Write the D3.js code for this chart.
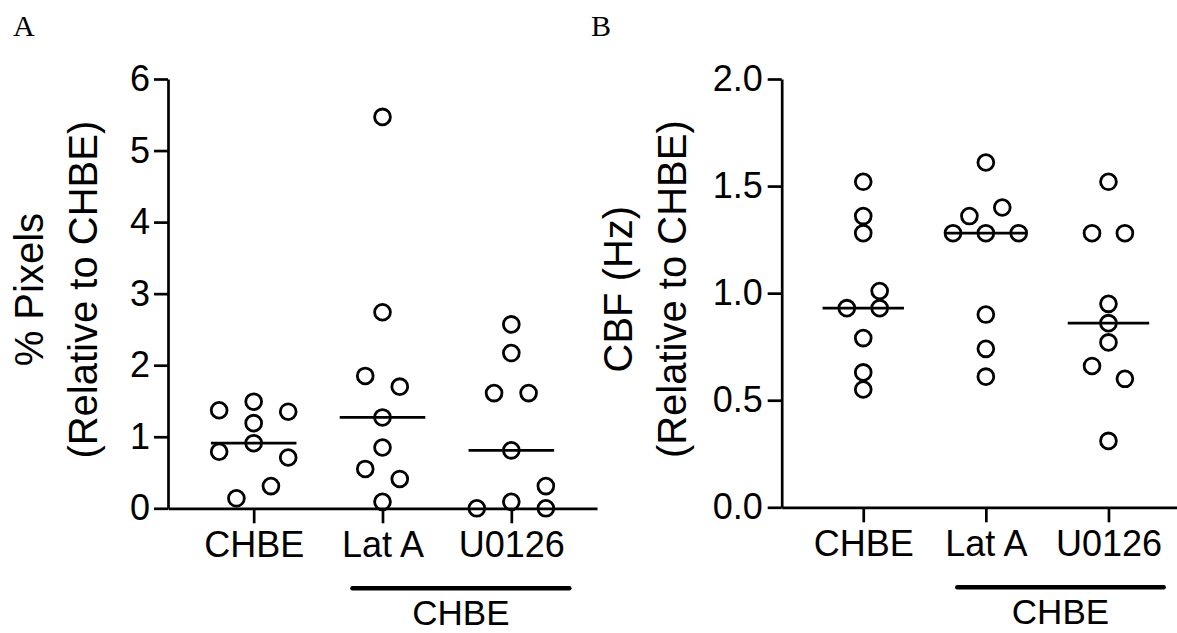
<!DOCTYPE html>
<html>
<head>
<meta charset="utf-8">
<title>Pixels and CBF</title>
<script src="https://d3js.org/d3.v7.min.js"></script>
<style>
    body { margin: 0; background: #fff; }
    text { font-family: "Liberation Sans", Arial, sans-serif; fill: #000; }
    .panel-letter { font-family: "Liberation Serif", "Times New Roman", serif; font-size: 30px; }
    .axis path, .axis line { stroke: #000; stroke-width: 2.7px; }
    .axis text { font-size: 36px; }
    .axis-title { font-size: 40px; }
    .group-label { font-size: 35px; }
    .dot { fill: none; stroke: #000; stroke-width: 2.8px; }
    .median { stroke: #000; stroke-width: 2.8px; }
    .group-bar { stroke: #000; stroke-width: 4.5px; stroke-linecap: round; }
</style>
</head>
<body>
<svg id="chart" width="1177" height="633"></svg>
<script>
// categories
var groups = ["CHBE", "Lat A", "U0126"];

// panel A: % pixels, relative to CHBE
var pixelsCHBE  = [1.49, 1.37, 1.35, 1.19, 0.91, 0.79, 0.71, 0.31, 0.14];
var pixelsLatA  = [5.47, 2.74, 1.85, 1.70, 1.27, 0.85, 0.55, 0.41, 0.09];
var pixelsU0126 = [2.57, 2.17, 1.61, 1.61, 0.81, 0.31, 0.00, 0.09, 0.00];
// side-by-side spread of overlapping points (column slot per point)
var pixelsSpreadCHBE  = [0, -2, 2, 0, 0, -2, 2, 1, -1];
var pixelsSpreadLatA  = [0, 0, -1, 1, 0, 0, -1, 1, 0];
var pixelsSpreadU0126 = [0, 0, -1, 1, 0, 2, -2, 0, 2];
var pixelTicks = [0, 1, 2, 3, 4, 5, 6];

// panel B: CBF (Hz), relative to CHBE
var cbfCHBE  = [1.52, 1.36, 1.28, 1.01, 0.93, 0.93, 0.79, 0.63, 0.55];
var cbfLatA  = [1.61, 1.40, 1.36, 1.28, 1.28, 1.28, 0.90, 0.74, 0.61];
var cbfU0126 = [1.52, 1.28, 1.28, 0.95, 0.86, 0.77, 0.66, 0.60, 0.31];
var cbfSpreadCHBE  = [0, 0, 0, 1, -1, 1, 0, 0, 0];
var cbfSpreadLatA  = [0, 1, -1, -2, 0, 2, 0, 0, 0];
var cbfSpreadU0126 = [0, -1, 1, 0, 0, 0, -1, 1, 0];
var cbfTicks = [0, 0.5, 1.0, 1.5, 2.0];

var svg = d3.select("#chart");

function drawPanel(opt) {
    var g = svg.append("g");

    var x = d3.scalePoint()
        .domain(groups)
        .range([opt.left, opt.right])
        .padding(0.665);
    var step = x.step();

    var y = d3.scaleLinear()
        .domain(opt.domain)
        .range([opt.bottom, opt.top]);

    // x axis
    g.append("g")
        .attr("class", "axis")
        .attr("transform", "translate(0," + opt.bottom + ")")
        .call(d3.axisBottom(x).tickSize(15).tickPadding(8).tickSizeOuter(0));

    // y axis
    g.append("g")
        .attr("class", "axis")
        .attr("transform", "translate(" + opt.left + ",0)")
        .call(d3.axisLeft(y).tickValues(opt.ticks).tickFormat(opt.format)
            .tickSize(14).tickPadding(opt.tickPad).tickSizeOuter(0));

    // y titles (two lines)
    var midY = (opt.top + opt.bottom) / 2;
    opt.titles.forEach(function(t, i) {
        g.append("text")
            .attr("class", "axis-title")
            .attr("text-anchor", "middle")
            .attr("transform", "translate(" + (opt.left - opt.titleGap + i * 54) + "," + (midY - 4) + ") rotate(-90)")
            .text(t);
    });

    // points + medians
    var spread = d3.scaleLinear().domain([0, 1]).range([0, step * 0.134]);
    opt.series.forEach(function(s, k) {
        var name = groups[k];
        var pts = s.values.map(function(v, i) { return { v: v, slot: s.spread[i] }; });

        g.append("g").selectAll("circle")
            .data(pts)
            .enter().append("circle")
            .attr("class", "dot")
            .attr("cx", function(d) { return x(name) + spread(d.slot); })
            .attr("cy", function(d) { return y(d.v); })
            .attr("r", 7.9);

        var med = d3.median(s.values);
        g.append("line")
            .attr("class", "median")
            .attr("x1", x(name) - step * 0.332)
            .attr("x2", x(name) + step * 0.332)
            .attr("y1", y(med))
            .attr("y2", y(med));
    });

    // bracket bar under treated groups
    var bx1 = x("Lat A") - step * 0.233;
    var bx2 = x("U0126") + step * 0.45;
    g.append("line")
        .attr("class", "group-bar")
        .attr("x1", bx1).attr("x2", bx2)
        .attr("y1", opt.bottom + 80).attr("y2", opt.bottom + 80);
    g.append("text")
        .attr("class", "group-label")
        .attr("text-anchor", "middle")
        .attr("x", (bx1 + bx2) / 2)
        .attr("y", opt.bottom + 117)
        .text("CHBE");

    // panel letter
    svg.append("text")
        .attr("class", "panel-letter")
        .attr("x", opt.letterX)
        .attr("y", 36)
        .text(opt.letter);
}

drawPanel({
    letter: "A", letterX: 13,
    left: 168, right: 597, top: 79, bottom: 508.3,
    domain: [0, 6], ticks: pixelTicks, format: d3.format("d"), tickPad: 4,
    titles: ["% Pixels", "(Relative to CHBE)"], titleGap: 125,
    series: [
        { values: pixelsCHBE, spread: pixelsSpreadCHBE },
        { values: pixelsLatA, spread: pixelsSpreadLatA },
        { values: pixelsU0126, spread: pixelsSpreadU0126 }
    ]
});

drawPanel({
    letter: "B", letterX: 591,
    left: 781.7, right: 1190, top: 79, bottom: 507.3,
    domain: [0, 2], ticks: cbfTicks, format: d3.format(".1f"), tickPad: 5,
    titles: ["CBF (Hz)", "(Relative to CHBE)"], titleGap: 150,
    series: [
        { values: cbfCHBE, spread: cbfSpreadCHBE },
        { values: cbfLatA, spread: cbfSpreadLatA },
        { values: cbfU0126, spread: cbfSpreadU0126 }
    ]
});
</script>
</body>
</html>
